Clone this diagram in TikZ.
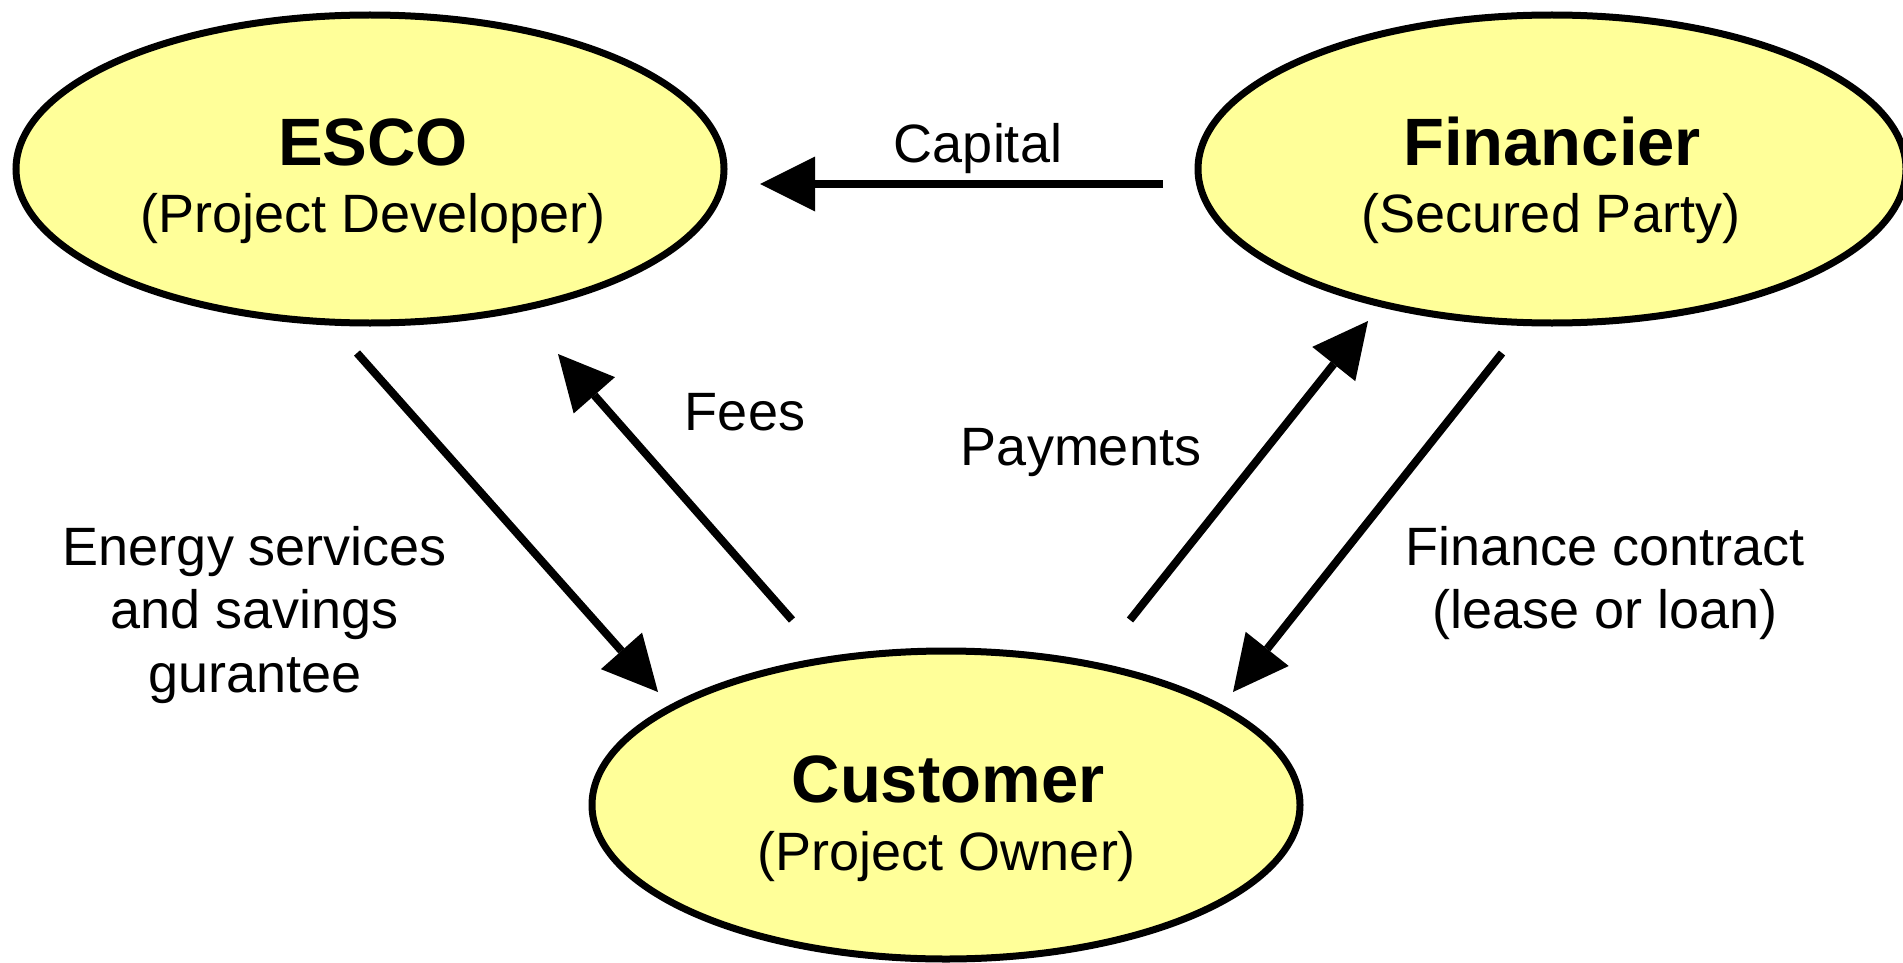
\documentclass[tikz,border=0pt]{standalone}
\usepackage{fontspec}
\setmainfont{Liberation Sans}
\usetikzlibrary{arrows.meta,shapes.geometric}
\definecolor{pale}{HTML}{FFFF99}
\begin{document}
\begin{tikzpicture}[x=1pt,y=-1pt,
  party/.style={ellipse, draw=black, line width=7pt, fill=pale, inner sep=0pt,
                minimum width=708pt, minimum height=308pt},
  flow/.style={line width=8pt, -{Triangle[length=55pt,width=55pt,line width=0pt]}},
  ttl/.style={anchor=base, inner sep=0pt, font=\fontsize{67}{80}\selectfont\bfseries},
  txt/.style={anchor=base, inner sep=0pt, font=\fontsize{54}{64}\selectfont},
]
\useasboundingbox (0,0) rectangle (1903,963);
\clip (0,0) rectangle (1903,963);

% parties
\node[party] (esco) at (370,169) {};
\node[party] (fin)  at (1552,169) {};
\node[party] (cust) at (946,805) {};

\node[ttl] (escoT) at (373,165) {ESCO};
\node[txt] (escoS) at (373,232) {(Project Developer)};
\node[ttl] (finT)  at (1552,165) {Financier};
\node[txt] (finS)  at (1551,232) {(Secured Party)};
\node[ttl] (custT) at (948,802) {Customer};
\node[txt] (custS) at (947,870) {(Project Owner)};

% connector end points
\coordinate (capA) at (1163,184);
\coordinate (capB) at (760,184);
\coordinate (enA)  at (357,353);
\coordinate (enB)  at (658,692);
\coordinate (feA)  at (792,620);
\coordinate (feB)  at (558,354);
\coordinate (paA)  at (1130,620);
\coordinate (paB)  at (1368,321);
\coordinate (fcA)  at (1502,353);
\coordinate (fcB)  at (1233,692);

\draw[flow] (capA) -- (capB);
\draw[flow] (enA) -- (enB);
\draw[flow] (feA) -- (feB);
\draw[flow] (paA) -- (paB);
\draw[flow] (fcA) -- (fcB);

% labels
\node[txt] (capL) at (978,162) {Capital};
\node[txt] (feL)  at (745,430) {Fees};
\node[txt] (paL)  at (1081,465) {Payments};
\node[txt] (en1)  at (255,565) {Energy services};
\node[txt] (en2)  at (255,628) {and savings};
\node[txt] (en3)  at (255,692) {gurantee};
\node[txt] (fc1)  at (1605,565) {Finance contract};
\node[txt] (fc2)  at (1605,628) {(lease or loan)};
\end{tikzpicture}
\end{document}
